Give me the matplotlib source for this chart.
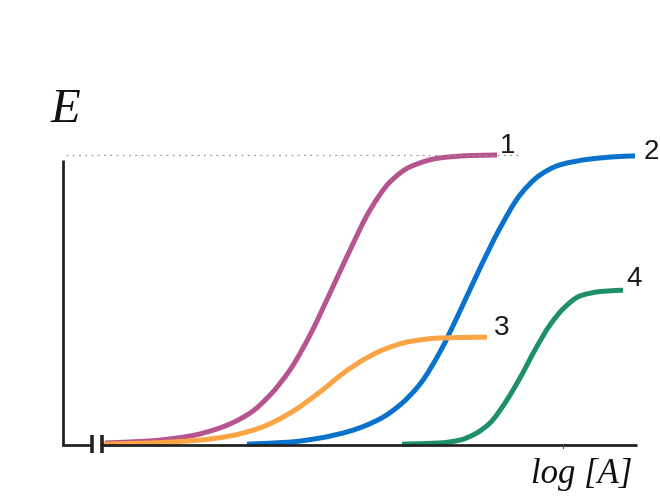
import matplotlib
matplotlib.use("Agg")
import matplotlib.pyplot as plt
from matplotlib.path import Path
from matplotlib.patches import PathPatch

# Curve data: x = log[A] (arbitrary units), y = effect E (fraction of max)
x1 = [0.84, 1.74, 2.54, 3.14, 3.74, 4.14, 4.54, 4.94, 5.34, 5.74, 6.14, 6.54, 6.94, 7.54, 8.14, 8.68]
e1 = [0.007, 0.014, 0.031, 0.059, 0.110, 0.172, 0.259, 0.379, 0.524, 0.672, 0.810, 0.907, 0.959, 0.990, 0.998, 1.000]

x2 = [3.68, 4.54, 5.14, 5.74, 6.34, 6.74, 7.14, 7.54, 7.94, 8.34, 8.74, 9.14, 9.54, 9.94, 10.54, 11.14, 11.44]
e2 = [0.003, 0.010, 0.024, 0.048, 0.090, 0.138, 0.210, 0.321, 0.462, 0.610, 0.748, 0.862, 0.931, 0.966, 0.986, 0.995, 0.997]

x3 = [0.80, 1.74, 2.74, 3.34, 3.94, 4.54, 5.14, 5.64, 6.04, 6.44, 6.94, 7.54, 8.48]
e3 = [0.003, 0.007, 0.017, 0.031, 0.059, 0.110, 0.183, 0.252, 0.297, 0.331, 0.357, 0.369, 0.372]

x4 = [6.78, 7.54, 7.94, 8.24, 8.54, 8.84, 9.14, 9.44, 9.74, 10.04, 10.34, 10.74, 11.20]
e4 = [0.003, 0.007, 0.017, 0.038, 0.076, 0.145, 0.231, 0.328, 0.414, 0.476, 0.514, 0.529, 0.534]

labels = ["1", "2", "3", "4"]
colors = ["#B5548F", "#0A72CC", "#FBA443", "#1E8F6B"]


def smooth_path(xs, ys):
    """Monotone cubic (Fritsch-Carlson) curve through the data points as Bezier segments."""
    n = len(xs)
    h = [xs[i + 1] - xs[i] for i in range(n - 1)]
    d = [(ys[i + 1] - ys[i]) / h[i] for i in range(n - 1)]
    m = [0.0] * n
    m[0] = d[0]
    m[-1] = d[-1]
    for i in range(1, n - 1):
        if d[i - 1] * d[i] <= 0:
            m[i] = 0.0
        else:
            w1 = 2 * h[i] + h[i - 1]
            w2 = h[i] + 2 * h[i - 1]
            m[i] = (w1 + w2) / (w1 / d[i - 1] + w2 / d[i])
    verts = [(xs[0], ys[0])]
    codes = [Path.MOVETO]
    for i in range(n - 1):
        c1 = (xs[i] + h[i] / 3.0, ys[i] + m[i] * h[i] / 3.0)
        c2 = (xs[i + 1] - h[i] / 3.0, ys[i + 1] - m[i + 1] * h[i] / 3.0)
        verts += [c1, c2, (xs[i + 1], ys[i + 1])]
        codes += [Path.CURVE4] * 3
    return Path(verts, codes)


fig = plt.figure(figsize=(6.6, 5.0), dpi=100)
ax = fig.add_axes([0, 0, 1, 1])
ax.set_xlim(-1.26, 11.94)
ax.set_ylim(-0.1897, 1.5345)
ax.axis("off")

# axes
ax.plot([0, 0], [-0.004, 0.983], color="#222222", lw=2.0, solid_capstyle="butt")
ax.plot([-0.02, 0.58], [0, 0], color="#222222", lw=2.0, solid_capstyle="butt")
ax.plot([0.78, 11.48], [0, 0], color="#222222", lw=2.0, solid_capstyle="butt")
for bx in (0.58, 0.78):
    ax.plot([bx, bx], [-0.028, 0.034], color="#222222", lw=2.6, solid_capstyle="butt")
ax.plot([10.0, 10.0], [0, -0.012], color="#555555", lw=0.8)

# maximum effect reference
ax.plot([0.05, 9.14], [1.0, 1.0], color="#999999", lw=0.9, linestyle=(0, (1.5, 3.5)))

for xs, es, c in zip([x1, x2, x3, x4], [e1, e2, e3, e4], colors):
    ax.add_patch(PathPatch(smooth_path(xs, es), facecolor="none", edgecolor=c,
                           lw=3.6, capstyle="butt", joinstyle="round"))

lab_pos = [(8.9, 1.03), (11.76, 1.01), (8.78, 0.405), (11.42, 0.572)]
for t, (lx, ly) in zip(labels, lab_pos):
    ax.text(lx, ly, t, fontsize=20, ha="center", va="center", color="#1a1a1a",
            family="Liberation Sans")

ax.text(0.04, 1.155, "E", fontsize=35, ha="center", va="center",
        family="Liberation Serif", style="italic", color="#111111")
ax.text(10.38, -0.103, "log [A]", fontsize=25, ha="center", va="center",
        family="Liberation Serif", style="italic", color="#111111")

fig.savefig("out.png", dpi=100)
